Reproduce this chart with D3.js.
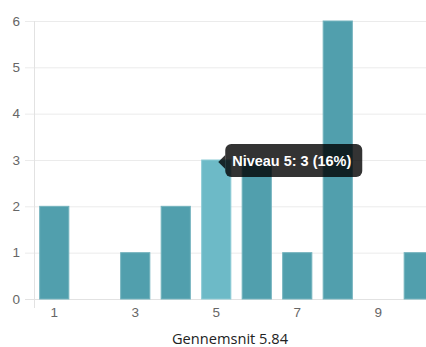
<!DOCTYPE html>
<html><head><meta charset="utf-8">
<script src="https://cdn.jsdelivr.net/npm/d3@7"></script>
<style>body{margin:0;background:#fff}svg{display:block}</style>
</head><body>
<script>
const categories = [1,2,3,4,5,6,7,8,9,10];
const counts = [2,0,1,2,3,3,1,6,0,1];
const yTicks = [0,1,2,3,4,5,6];
const xTickLabels = [1,3,5,7,9];
const hovered = 5;
const titleText = "Gennemsnit 5.84";

const W = 426, H = 347;
const svg = d3.select("body").append("svg").attr("width", W).attr("height", H);
const m = {l:34, t:21, b:48};
const x = d3.scaleBand().domain(categories).range([m.l, m.l + 40.5*categories.length]).paddingInner(0.28).paddingOuter(0.14);
const y = d3.scaleLinear().domain([0,6]).range([299, 21]);

const grid = svg.append("g");
yTicks.forEach(t => {
  grid.append("line").attr("x1", 25).attr("x2", W).attr("y1", y(t)+0.5).attr("y2", y(t)+0.5)
    .attr("stroke", t===0 ? "#e2e2e2" : "#ebebeb").attr("stroke-width", 1);
  svg.append("text").attr("x", 20).attr("y", y(t)).attr("dy", "0.35em").attr("text-anchor","end")
    .attr("font-family","Liberation Sans, Arial, sans-serif").attr("font-size", 13.5).attr("fill","#666").text(t);
});
grid.append("line").attr("x1", m.l+0.5).attr("x2", m.l+0.5).attr("y1", 21).attr("y2", 308).attr("stroke","#e2e2e2");

svg.append("g").selectAll("rect").data(categories).join("rect")
  .attr("x", d => x(d)).attr("width", x.bandwidth())
  .attr("y", (d,i) => y(counts[i])).attr("height", (d,i) => y(0) - y(counts[i]))
  .attr("fill", d => d===hovered ? "#6dbac7" : "#519fad")
  .attr("stroke", d => d===hovered ? "#8ccbd5" : "#74b3be").attr("stroke-width", 1);

xTickLabels.forEach(c => {
  svg.append("text").attr("x", x(c)+x.bandwidth()/2).attr("y", 317).attr("text-anchor","middle")
    .attr("font-family","Liberation Sans, Arial, sans-serif").attr("font-size", 13.5).attr("fill","#666").text(c);
});

svg.append("text").attr("x", 230).attr("y", 344).attr("text-anchor","middle")
  .attr("font-family","Open Sans, Noto Sans, sans-serif").attr("font-size", 14.5).attr("fill","#222")
  .attr("textLength", 116).attr("lengthAdjust","spacingAndGlyphs").text(titleText);

// tooltip
const hi = categories.indexOf(hovered);
const total = d3.sum(counts);
const cx = x(hovered) + x.bandwidth()/2;
const tipX = cx + 9, tipY = y(counts[hi]) - 16;
const tip = svg.append("g");
tip.append("path")
  .attr("d", `M${tipX-7},${tipY+18} L${tipX},${tipY+11} L${tipX},${tipY+25} Z`).attr("fill","rgba(0,0,0,0.8)");
tip.append("rect").attr("x", tipX).attr("y", tipY).attr("width", 137).attr("height", 33).attr("rx", 6)
  .attr("fill","rgba(0,0,0,0.8)");
tip.append("text").attr("x", tipX+7).attr("y", tipY+22)
  .attr("font-family","Liberation Sans, Arial, sans-serif").attr("font-size", 14.5).attr("font-weight","bold").attr("fill","#fff")
  .attr("textLength", 119).attr("lengthAdjust","spacingAndGlyphs")
  .text(`Niveau ${hovered}: ${counts[hi]} (${Math.round(counts[hi]/total*100)}%)`);
</script>
</body></html>
